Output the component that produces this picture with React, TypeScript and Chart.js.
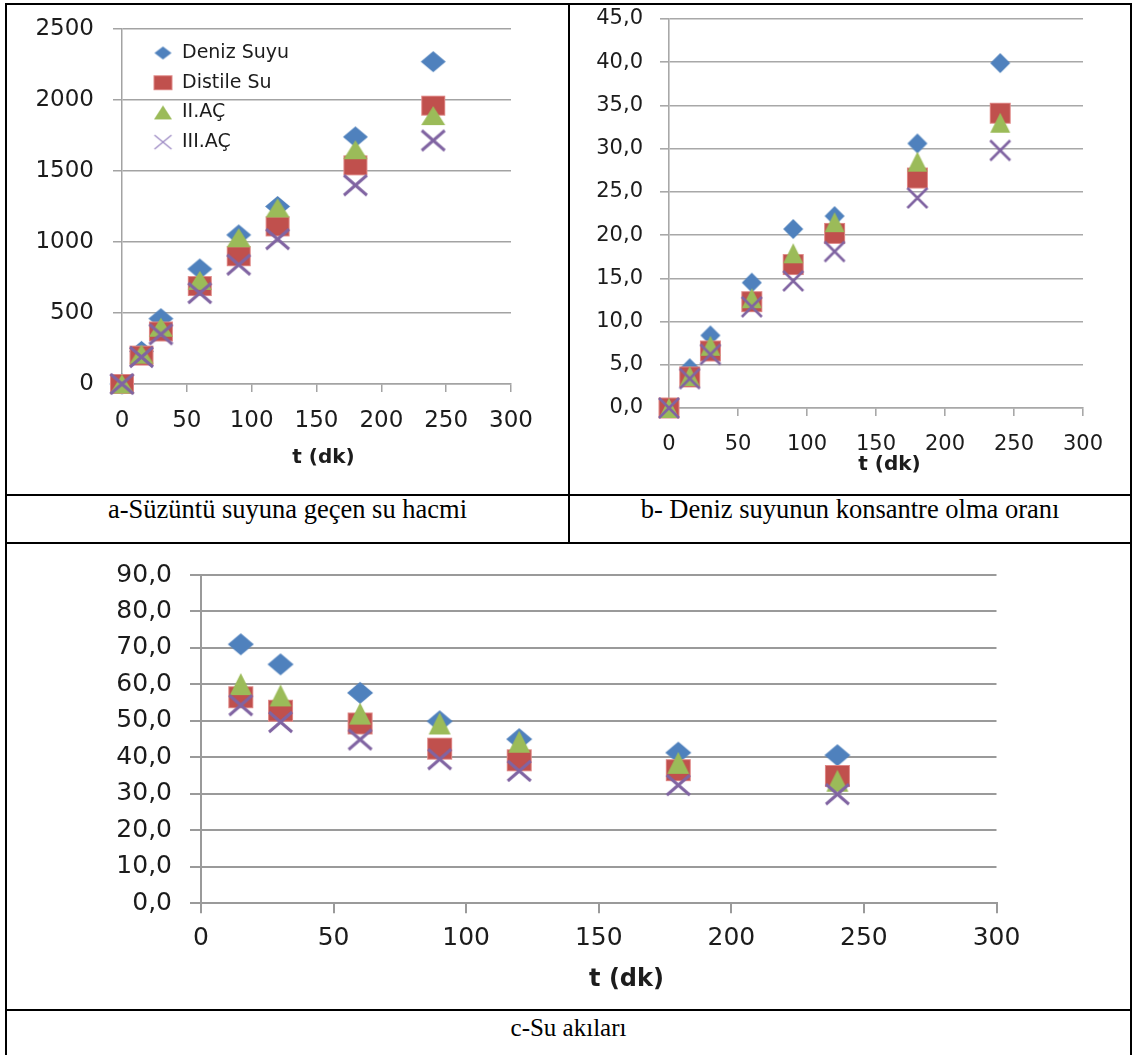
import React, { useEffect, useRef } from 'react';
import { Chart, registerables } from 'chart.js';

Chart.register(...registerables);

// ---------- data ----------
const TIMES_AB = [0, 15, 30, 60, 90, 120, 180, 240];
const TIMES_C = [15, 30, 60, 90, 120, 180, 240];
const SERIES_NAMES = ['Deniz Suyu', 'Distile Su', 'II.AÇ', 'III.AÇ'];
const X_TITLE = 't (dk)';
const CAPTION_A = 'a-Süzüntü suyuna geçen su hacmi';
const CAPTION_B = 'b- Deniz suyunun konsantre olma oranı';
const CAPTION_C = 'c-Su akıları';

// a - volume passed to permeate
const VOLUME_DENIZ = [0, 230, 460, 810, 1050, 1250, 1740, 2270];
const VOLUME_DISTILE = [0, 200, 370, 690, 900, 1110, 1540, 1960];
const VOLUME_II = [0, 210, 400, 730, 1030, 1240, 1650, 1890];
const VOLUME_III = [0, 190, 350, 640, 840, 1020, 1400, 1715];

// b - concentration ratio
const CONC_DENIZ = [0, 4.6, 8.4, 14.5, 20.7, 22.2, 30.6, 39.9];
const CONC_DISTILE = [0, 3.6, 6.6, 12.3, 16.6, 20.2, 26.6, 34.1];
const CONC_II = [0, 3.7, 7.2, 12.7, 17.9, 21.5, 28.5, 33.0];
const CONC_III = [0, 3.4, 6.2, 11.7, 14.7, 18.1, 24.3, 29.8];

// c - water fluxes
const FLUX_DENIZ = [71.0, 65.5, 57.7, 49.9, 45.0, 41.3, 40.6];
const FLUX_DISTILE = [56.5, 52.8, 49.3, 42.4, 39.2, 36.5, 34.9];
const FLUX_II = [60.1, 57.0, 52.0, 49.3, 44.3, 38.5, 33.6];
const FLUX_III = [54.3, 49.7, 44.9, 39.5, 36.3, 32.4, 29.9];

// ---------- styles ----------
const COLORS = ['#4F81BD', '#C0504D', '#9BBB59', '#8064A2'];
const SHAPES = ['diamond', 'square', 'triangle', 'cross'];
const TEXT = '#1c1c1c';
const FONT = '"DejaVu Sans", sans-serif';

function makeMarker(shape: string, color: string, w: number, h: number, lw: number): HTMLCanvasElement {
  const pad = 3;
  const c = document.createElement('canvas');
  c.width = Math.round(w + pad * 2);
  c.height = Math.round(h + pad * 2);
  const ctx = c.getContext('2d')!;
  const cx = c.width / 2;
  const cy = c.height / 2;
  ctx.fillStyle = color;
  ctx.strokeStyle = color;
  ctx.beginPath();
  if (shape === 'diamond') {
    ctx.moveTo(cx, cy - h / 2);
    ctx.lineTo(cx + w / 2, cy);
    ctx.lineTo(cx, cy + h / 2);
    ctx.lineTo(cx - w / 2, cy);
    ctx.closePath();
    ctx.fill();
  } else if (shape === 'square') {
    ctx.rect(cx - w / 2, cy - h / 2, w, h);
    ctx.fill();
    ctx.lineWidth = 1;
    ctx.strokeStyle = 'rgba(230,150,150,0.8)';
    ctx.strokeRect(cx - w / 2 + 0.5, cy - h / 2 + 0.5, w - 1, h - 1);
  } else if (shape === 'triangle') {
    ctx.moveTo(cx, cy - h / 2);
    ctx.lineTo(cx + w / 2, cy + h / 2);
    ctx.lineTo(cx - w / 2, cy + h / 2);
    ctx.closePath();
    ctx.fill();
  } else {
    ctx.lineWidth = lw;
    ctx.lineCap = 'butt';
    ctx.moveTo(cx - w / 2, cy - h / 2);
    ctx.lineTo(cx + w / 2, cy + h / 2);
    ctx.moveTo(cx + w / 2, cy - h / 2);
    ctx.lineTo(cx - w / 2, cy + h / 2);
    ctx.stroke();
  }
  return c;
}

interface LegendSpec {
  dx: number;
  dy: number;
  gap: number;
  textDx: number;
  font: number;
  sizes: number[][];
}

interface PanelProps {
  left: number;
  top: number;
  width: number;
  height: number;
  xs: number[];
  series: number[][];
  yMax: number;
  yStep: number;
  decimals: number;
  yAxisWidth: number;
  xAxisHeight: number;
  padTop: number;
  padRight: number;
  tickFont: number;
  yPad: number;
  xPad: number;
  yTickLen: number;
  xTickLen: number;
  gridColor: string;
  gridWidth: number;
  markerSizes: number[][];
  crossWidth: number;
  titleFont: number;
  titleDx: number;
  titleDy: number;
  legend?: LegendSpec;
}

function ScatterPanel(p: PanelProps) {
  const ref = useRef<HTMLCanvasElement>(null);
  useEffect(() => {
    const canvas = ref.current!;
    const markers = SHAPES.map((s, i) =>
      makeMarker(s, COLORS[i], p.markerSizes[i][0], p.markerSizes[i][1], p.crossWidth)
    );
    const legendMarkers = p.legend
      ? SHAPES.map((s, i) =>
          makeMarker(
            s,
            i === 3 ? '#a08ec6' : COLORS[i],
            p.legend!.sizes[i][0],
            p.legend!.sizes[i][1],
            1.4
          )
        )
      : [];
    const datasets = p.series.map((ys, i) => ({
      label: SERIES_NAMES[i],
      data: p.xs.map((x, j) => ({ x, y: ys[j] })),
      pointStyle: markers[i],
      pointRadius: 10,
      pointHoverRadius: 10,
      showLine: false,
      clip: false,
      order: 4 - i,
      backgroundColor: COLORS[i],
      borderColor: COLORS[i],
    }));
    const overlay = {
      id: 'overlay',
      afterDraw(chart: any) {
        const { ctx, chartArea: a } = chart;
        ctx.save();
        ctx.fillStyle = TEXT;
        ctx.font = `bold ${p.titleFont}px ${FONT}`;
        ctx.textAlign = 'center';
        ctx.textBaseline = 'middle';
        ctx.fillText(X_TITLE, (a.left + a.right) / 2 + p.titleDx, a.bottom + p.titleDy);
        if (p.legend) {
          const L = p.legend;
          ctx.font = `${L.font}px ${FONT}`;
          ctx.textAlign = 'left';
          chart.data.datasets.forEach((ds: any, i: number) => {
            const m = legendMarkers[i];
            const cy = a.top + L.dy + i * L.gap;
            ctx.drawImage(m, a.left + L.dx - m.width / 2, cy - m.height / 2);
            ctx.fillText(ds.label, a.left + L.textDx, cy);
          });
        }
        ctx.restore();
      },
    };
    const chart = new Chart(canvas, {
      type: 'scatter',
      data: { datasets: datasets as any },
      options: {
        responsive: false,
        animation: false,
        devicePixelRatio: 1,
        events: [],
        layout: { padding: { top: p.padTop, right: p.padRight, bottom: 0, left: 0 } },
        plugins: {
          legend: { display: false },
          tooltip: { enabled: false },
          title: { display: false },
        },
        scales: {
          x: {
            type: 'linear',
            min: 0,
            max: 300,
            afterFit: (s: any) => {
              s.height = p.xAxisHeight;
              s.paddingLeft = 0;
              s.paddingRight = 0;
              s.paddingTop = 0;
              s.paddingBottom = 0;
            },
            ticks: {
              stepSize: 50,
              autoSkip: false,
              maxRotation: 0,
              font: { family: FONT, size: p.tickFont },
              color: TEXT,
              padding: p.xPad,
            },
            grid: {
              drawOnChartArea: false,
              drawTicks: true,
              tickLength: p.xTickLen,
              color: p.gridColor,
              lineWidth: p.gridWidth,
            },
            border: { display: true, color: p.gridColor, width: p.gridWidth },
          },
          y: {
            type: 'linear',
            min: 0,
            max: p.yMax,
            afterFit: (s: any) => {
              s.width = p.yAxisWidth;
              s.paddingLeft = 0;
              s.paddingRight = 0;
              s.paddingTop = 0;
              s.paddingBottom = 0;
            },
            ticks: {
              stepSize: p.yStep,
              autoSkip: false,
              font: { family: FONT, size: p.tickFont },
              color: TEXT,
              padding: p.yPad,
              callback: (v: any) => Number(v).toFixed(p.decimals).replace('.', ','),
            },
            grid: {
              color: p.gridColor,
              lineWidth: p.gridWidth,
              tickLength: p.yTickLen,
            },
            border: { display: true, color: p.gridColor, width: p.gridWidth },
          },
        },
      } as any,
      plugins: [overlay as any],
    });
    return () => chart.destroy();
  }, []);
  return (
    <canvas
      ref={ref}
      width={p.width}
      height={p.height}
      style={{ position: 'absolute', left: p.left, top: p.top, width: p.width, height: p.height }}
    />
  );
}

const PANEL_A: PanelProps = {
  left: 7, top: 5, width: 561, height: 488,
  xs: TIMES_AB,
  series: [VOLUME_DENIZ, VOLUME_DISTILE, VOLUME_II, VOLUME_III],
  yMax: 2500, yStep: 500, decimals: 0,
  yAxisWidth: 115, xAxisHeight: 109, padTop: 24, padRight: 57,
  tickFont: 23, yPad: 19, xPad: 15, yTickLen: 9, xTickLen: 8,
  gridColor: '#a3a3a3', gridWidth: 1.5,
  markerSizes: [[25, 21], [24, 20], [24, 19], [23, 20]], crossWidth: 3,
  titleFont: 20, titleDx: 7, titleDy: 74,
  legend: {
    dx: 41, dy: 24, gap: 29.7, textDx: 60, font: 19,
    sizes: [[17, 13], [19, 15], [18, 14], [17, 14]],
  },
};

const PANEL_B: PanelProps = {
  left: 570, top: 5, width: 560, height: 488,
  xs: TIMES_AB,
  series: [CONC_DENIZ, CONC_DISTILE, CONC_II, CONC_III],
  yMax: 45, yStep: 5, decimals: 1,
  yAxisWidth: 99, xAxisHeight: 85, padTop: 14, padRight: 47,
  tickFont: 21, yPad: 17, xPad: 16, yTickLen: 9, xTickLen: 8,
  gridColor: '#a8a8a8', gridWidth: 1.6,
  markerSizes: [[20, 20], [21, 21], [20, 20], [20, 20]], crossWidth: 2.6,
  titleFont: 20, titleDx: 13.5, titleDy: 57,
};

const PANEL_C: PanelProps = {
  left: 7, top: 545, width: 1123, height: 463,
  xs: TIMES_C,
  series: [FLUX_DENIZ, FLUX_DISTILE, FLUX_II, FLUX_III],
  yMax: 90, yStep: 10, decimals: 1,
  yAxisWidth: 194, xAxisHeight: 104.7, padTop: 30, padRight: 133.5,
  tickFont: 25, yPad: 18, xPad: 9.7, yTickLen: 11, xTickLen: 10,
  gridColor: '#9a9a9a', gridWidth: 2,
  markerSizes: [[26, 22], [25, 22], [22, 22], [23, 20]], crossWidth: 3,
  titleFont: 24, titleDx: 27.75, titleDy: 76.7,
};

const line = (left: number, top: number, width: number, height: number) => (
  <div style={{ position: 'absolute', left, top, width, height, background: '#000' }} />
);

const captionStyle = (left: number, top: number, width: number, size: number, lh: number): React.CSSProperties => ({
  position: 'absolute',
  left,
  top,
  width,
  height: lh,
  lineHeight: `${lh}px`,
  fontSize: size,
  fontFamily: '"Liberation Serif", "Times New Roman", serif',
  textAlign: 'center',
  color: '#000',
  whiteSpace: 'nowrap',
});

export default function App() {
  return (
    <div style={{ position: 'absolute', left: 0, top: 0, width: 1134, height: 1055, background: '#fff', overflow: 'hidden' }}>
      <ScatterPanel {...PANEL_A} />
      <ScatterPanel {...PANEL_B} />
      <ScatterPanel {...PANEL_C} />
      <div style={captionStyle(7, 494, 561, 26.5, 30)}>{CAPTION_A}</div>
      <div style={captionStyle(570, 494, 560, 26.5, 30)}>{CAPTION_B}</div>
      <div style={captionStyle(7, 1013.6, 1123, 25, 28)}>{CAPTION_C}</div>
      {line(5, 3, 1127, 2)}
      {line(5, 3, 2, 1052)}
      {line(1130, 3, 2, 1052)}
      {line(568, 3, 2, 541)}
      {line(5, 493.5, 1127, 2.5)}
      {line(5, 542, 1127, 2)}
      {line(5, 1009, 1127, 2)}
    </div>
  );
}
